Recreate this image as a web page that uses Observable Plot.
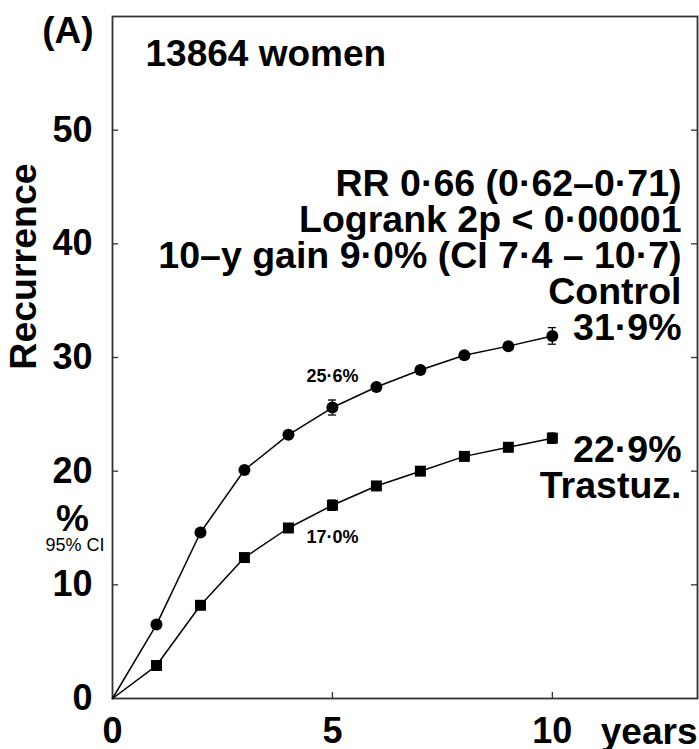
<!DOCTYPE html>
<html>
<head>
<meta charset="utf-8">
<script src="https://cdn.jsdelivr.net/npm/d3@7"></script>
<script src="https://cdn.jsdelivr.net/npm/@observablehq/plot@0.6"></script>
<style>
  body { margin: 0; background: #fff; }
</style>
</head>
<body>
<div id="chart"></div>
<script>
// Cumulative recurrence (%) by year of follow-up
const years    = [0, 1, 2, 3, 4, 5, 6, 7, 8, 9, 10];
const control  = [0, 6.5, 14.6, 20.1, 23.2, 25.6, 27.4, 28.9, 30.2, 31.0, 31.9];
const trastuz  = [0, 2.9, 8.2, 12.4, 15.0, 17.0, 18.7, 20.0, 21.3, 22.1, 22.9];

// 95% CI half-widths shown at 5 and 10 years
const ciYears   = [5, 10];
const controlCI = [0.66, 0.73];
const trastuzCI = [0.45, 0.45];

const xTicks = [0, 5, 10];
const yTicks = [0, 10, 20, 30, 40, 50];

const panel = "(A)";
const nWomen = "13864 women";
const statLines = [
  "RR 0·66 (0·62–0·71)",
  "Logrank 2p < 0·00001",
  "10–y gain 9·0% (CI 7·4 – 10·7)"
];
const groupNames = ["Control", "Trastuz."];

const W = 699, H = 749;
const mL = 112, mR = 2, mT = 16, mB = 51;
const innerW = W - mL - mR, innerH = H - mT - mB;

const fmt = v => v.toFixed(1).replace(".", "·") + "%";
const last = years.length - 1;
const at = y => years.indexOf(y);

const ctl = years.map((x, i) => ({x, y: control[i]}));
const trz = years.map((x, i) => ({x, y: trastuz[i]}));
const ci = [
  ...ciYears.map((x, i) => ({x, lo: control[at(x)] - controlCI[i], hi: control[at(x)] + controlCI[i]})),
  ...ciYears.map((x, i) => ({x, lo: trastuz[at(x)] - trastuzCI[i], hi: trastuz[at(x)] + trastuzCI[i]}))
];

const rightBlock = [...statLines, groupNames[0], fmt(control[last])].join("\n");
const lowerBlock = [fmt(trastuz[last]), groupNames[1]].join("\n");

const big = 37.5;

const chart = Plot.plot({
  width: W,
  height: H,
  marginLeft: mL,
  marginRight: mR,
  marginTop: mT,
  marginBottom: mB,
  style: {
    fontFamily: "'Liberation Sans', Arial, Helvetica, sans-serif",
    fontSize: "36px",
    fontWeight: "bold",
    background: "#fff",
    color: "#000",
    overflow: "visible"
  },
  x: {domain: [0, 13.3]},
  y: {domain: [0, 60]},
  marks: [
    Plot.frame({stroke: "#333", strokeWidth: 1.8}),
    // inward ticks
    Plot.ruleY(yTicks.filter(d => d > 0), {y: d => d, insetRight: innerW - 6, stroke: "#333", strokeWidth: 1.3}),
    Plot.ruleY(yTicks.filter(d => d > 0), {y: d => d, insetLeft: innerW - 6, stroke: "#333", strokeWidth: 1.3}),
    Plot.ruleX(xTicks.filter(d => d > 0), {x: d => d, insetTop: innerH - 6, stroke: "#333", strokeWidth: 1.3}),
    Plot.axisY({ticks: yTicks, tickSize: 0, tickPadding: 20, label: null, fontSize: 36, fontWeight: "bold"}),
    Plot.axisX({ticks: xTicks, tickSize: 0, tickPadding: 19, label: null, fontSize: 36, fontWeight: "bold"}),

    // curves
    Plot.line(ctl, {x: "x", y: "y", stroke: "#000", strokeWidth: 1.5}),
    Plot.line(trz, {x: "x", y: "y", stroke: "#000", strokeWidth: 1.5}),

    // confidence intervals
    Plot.ruleX(ci, {x: "x", y1: "lo", y2: "hi", stroke: "#000", strokeWidth: 1.3}),
    Plot.ruleY(ci, {y: "lo", x1: "x", x2: "x", insetLeft: -4, insetRight: -4, stroke: "#000", strokeWidth: 1.3}),
    Plot.ruleY(ci, {y: "hi", x1: "x", x2: "x", insetLeft: -4, insetRight: -4, stroke: "#000", strokeWidth: 1.3}),

    Plot.dot(ctl.slice(1), {x: "x", y: "y", r: 6, fill: "#000", symbol: "circle"}),
    Plot.dot(trz.slice(1), {x: "x", y: "y", r: 6.2, fill: "#000", symbol: "square"}),

    // 5-year values
    Plot.text([ctl[at(5)]], {x: "x", y: "y", text: d => fmt(d.y), fontSize: 18, fontWeight: "bold", lineAnchor: "bottom", dy: -26}),
    Plot.text([trz[at(5)]], {x: "x", y: "y", text: d => fmt(d.y), fontSize: 18, fontWeight: "bold", lineAnchor: "bottom", dy: 38}),

    // annotations
    Plot.text([panel], {text: d => d, frameAnchor: "top-left", textAnchor: "end", lineAnchor: "bottom", fontSize: 37, dx: -19, dy: 26}),
    Plot.text([nWomen], {text: d => d, frameAnchor: "top-left", textAnchor: "start", lineAnchor: "bottom", fontSize: 37, dx: 33, dy: 49}),
    Plot.text([rightBlock], {text: d => d, frameAnchor: "top-right", textAnchor: "end", lineAnchor: "bottom", fontSize: big, lineHeight: 35.8 / big, dx: -16, dy: 323}),
    Plot.text([lowerBlock], {text: d => d, frameAnchor: "top-right", textAnchor: "end", lineAnchor: "bottom", fontSize: big, lineHeight: 35.8 / big, dx: -16, dy: 481}),
    Plot.text(["years"], {text: d => d, frameAnchor: "bottom-right", textAnchor: "end", lineAnchor: "top", fontSize: 37, dy: 19}),

    // y-axis title
    Plot.text(["Recurrence"], {text: d => d, frameAnchor: "left", rotate: -90, textAnchor: "middle", lineAnchor: "bottom", fontSize: 37.5, dx: -77, dy: -91}),
    Plot.text(["%"], {text: d => d, frameAnchor: "left", textAnchor: "middle", lineAnchor: "bottom", fontSize: 37, dx: -40, dy: 173}),
    Plot.text(["95% CI"], {text: d => d, frameAnchor: "left", textAnchor: "end", lineAnchor: "bottom", fontSize: 18, fontWeight: "normal", dx: -8, dy: 193})
  ]
});

document.getElementById("chart").appendChild(chart);
</script>
</body>
</html>
